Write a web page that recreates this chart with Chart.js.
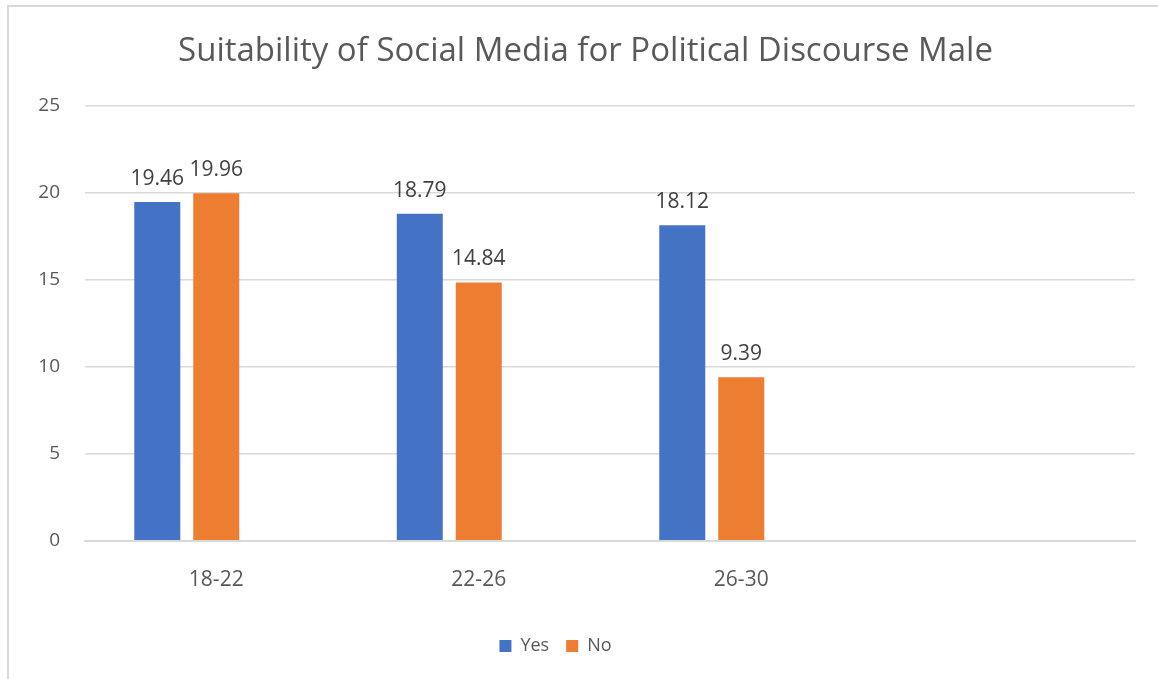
<!DOCTYPE html>
<html>
<head>
<meta charset="utf-8">
<script src="https://cdn.jsdelivr.net/npm/chart.js@4"></script>
<style>
  html, body { margin: 0; padding: 0; background: #fff; }
  #wrap { position: relative; width: 1158px; height: 679px; }
  #frame {
    position: absolute; left: 7px; top: 5px; right: -10px; bottom: -10px;
    border-left: 2px solid #d9d9d9; border-top: 2px solid #d9d9d9;
    pointer-events: none;
  }
</style>
</head>
<body>
<div id="wrap">
  <canvas id="chart" width="1158" height="679"></canvas>
  <div id="frame"></div>
</div>
<script>
const ageGroups = ['18-22', '22-26', '26-30', ''];
const yesValues = [19.46, 18.79, 18.12, null];
const noValues = [19.96, 14.84, 9.39, null];
const emptySeries = [null, null, null, null];
const yTicks = { min: 0, max: 25, step: 5 };

const FONT = "'Open Sans', 'Noto Sans', sans-serif";

// value labels above the bars
const valueLabels = {
  id: 'valueLabels',
  afterDatasetsDraw(chart) {
    const ctx = chart.ctx;
    ctx.save();
    ctx.font = '21px ' + FONT;
    ctx.fillStyle = '#404040';
    ctx.textAlign = 'center';
    ctx.textBaseline = 'alphabetic';
    chart.data.datasets.forEach((ds, di) => {
      const meta = chart.getDatasetMeta(di);
      meta.data.forEach((bar, i) => {
        const v = ds.data[i];
        if (v == null) return;
        ctx.fillText(v.toFixed(2), bar.x, bar.y - 17);
      });
    });
    ctx.restore();
  }
};

// nudge title / legend like the original
const nudge = {
  id: 'nudge',
  afterLayout(chart) {
    chart.legend.left -= 12;
    chart.legend.right -= 12;
    chart.titleBlock.left += 18;
    chart.titleBlock.right += 18;
  }
};

new Chart(document.getElementById('chart'), {
  type: 'bar',
  data: {
    labels: ageGroups,
    datasets: [
      {
        label: 'Yes',
        data: yesValues,
        backgroundColor: '#4472C4'
      },
      {
        label: 'No',
        data: noValues,
        backgroundColor: '#ED7D31'
      },
      {
        label: '',
        data: emptySeries,
        backgroundColor: '#A5A5A5'
      }
    ]
  },
  options: {
    responsive: false,
    animation: false,
    layout: {
      padding: { left: 0, right: 23, top: 0, bottom: 14 }
    },
    datasets: {
      bar: {
        categoryPercentage: 0.674,
        barPercentage: 0.78
      }
    },
    plugins: {
      title: {
        display: true,
        text: 'Suitability of Social Media for Political Discourse Male',
        color: '#595959',
        font: { family: FONT, size: 33, weight: 'normal' },
        padding: { top: 32, bottom: 34 }
      },
      legend: {
        position: 'bottom',
        labels: {
          color: '#595959',
          font: { family: FONT, size: 18 },
          boxWidth: 12,
          boxHeight: 12,
          padding: 17,
          filter: item => item.text !== ''
        }
      },
      tooltip: { enabled: false }
    },
    scales: {
      x: {
        afterFit(scale) { scale.height += 8; },
        grid: { display: false },
        border: { color: '#d9d9d9', width: 2 },
        ticks: {
          color: '#595959',
          font: { family: FONT, size: 21 },
          padding: 19
        }
      },
      y: {
        min: yTicks.min,
        max: yTicks.max,
        afterFit(scale) { scale.width = 85; },
        grid: { color: '#d9d9d9', lineWidth: 1.5, drawTicks: false },
        border: { display: false },
        ticks: {
          stepSize: yTicks.step,
          color: '#595959',
          font: { family: FONT, size: 19 },
          padding: 25
        }
      }
    }
  },
  plugins: [valueLabels, nudge]
});
</script>
</body>
</html>
